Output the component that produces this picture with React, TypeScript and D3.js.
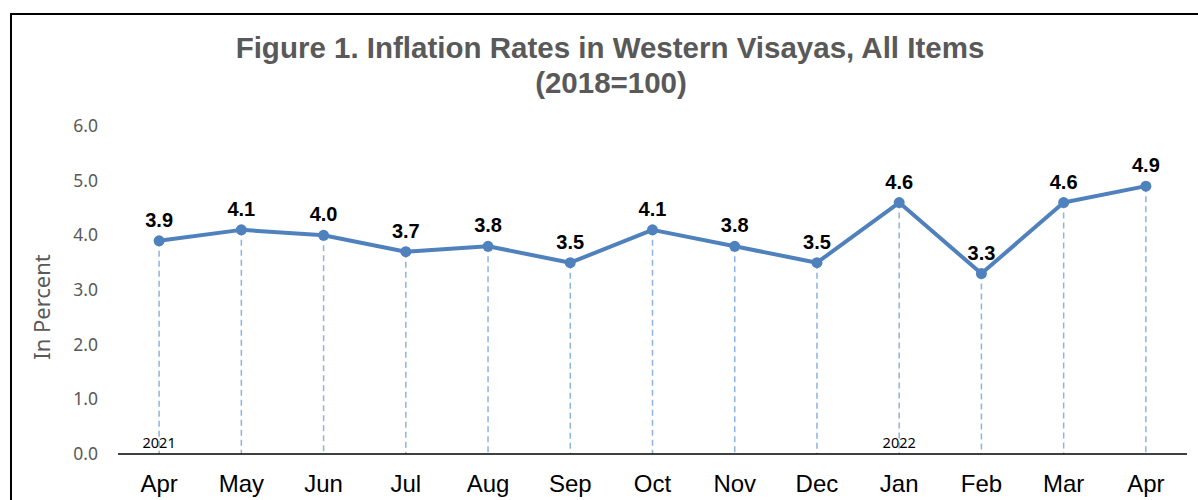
import React from "react";
import * as d3 from "d3";

const months = ["Apr", "May", "Jun", "Jul", "Aug", "Sep", "Oct", "Nov", "Dec", "Jan", "Feb", "Mar", "Apr"];
const values = [3.9, 4.1, 4.0, 3.7, 3.8, 3.5, 4.1, 3.8, 3.5, 4.6, 3.3, 4.6, 4.9];
const yearLabels = [{ index: 0, label: "2021" }, { index: 9, label: "2022" }];
const yTicks = [0, 1, 2, 3, 4, 5, 6];
const titleLines = ["Figure 1. Inflation Rates in Western Visayas, All Items", "(2018=100)"];
const yAxisTitle = "In Percent";

export default function App() {
  const W = 1198, H = 500;
  const keys = months.map((m, i) => i);
  const x = d3.scaleBand<number>().domain(keys).range([118, 1187]);
  const y = d3.scaleLinear().domain([0, 6]).range([454, 126]);
  const cx = (i: number) => (x(i) as number) + x.bandwidth() / 2;
  const line = d3.line<number>().x((d, i) => cx(i)).y((d) => y(d));
  const gray = "#595959";
  return (
    <svg width={W} height={H} style={{ position: "absolute", left: 0, top: 0, background: "#fff" }}>
      <rect x={11} y={14} width={W + 10} height={H + 10} fill="#fff" stroke="#000" strokeWidth={2} />
      <text x={610} y={58} textAnchor="middle" fontFamily="Liberation Sans, Arial" fontWeight="bold" fontSize={29.5} fill={gray}>{titleLines[0]}</text>
      <text x={611} y={93} textAnchor="middle" fontFamily="Liberation Sans, Arial" fontWeight="bold" fontSize={29.5} fill={gray}>{titleLines[1]}</text>
      {yTicks.map((t) => (
        <text key={t} x={98} y={y(t) + 6} textAnchor="end" fontFamily="Noto Sans, Open Sans" fontSize={17.5} fill={gray}>{t.toFixed(1)}</text>
      ))}
      <text transform={`translate(50,${307}) rotate(-90)`} textAnchor="middle" fontFamily="Noto Sans, Open Sans" fontSize={22} fill={gray}>{yAxisTitle}</text>
      {values.map((v, i) => (
        <line key={i} x1={cx(i)} x2={cx(i)} y1={y(v)} y2={y(0)} stroke="#8db3e2" strokeWidth={1.5} strokeDasharray="6,4" />
      ))}
      <line x1={118} x2={1187} y1={y(0)} y2={y(0)} stroke="#000" strokeWidth={1.5} />
      {yearLabels.map((yl) => (
        <text key={yl.label} x={cx(yl.index)} y={448} textAnchor="middle" fontFamily="Noto Sans, Open Sans" fontSize={14.5} fill="#000">{yl.label}</text>
      ))}
      {months.map((m, i) => (
        <text key={i} x={cx(i)} y={492} textAnchor="middle" fontFamily="Liberation Sans, Arial" fontSize={24} fill="#000">{m}</text>
      ))}
      <path d={line(values) || ""} fill="none" stroke="#4f81bd" strokeWidth={4} strokeLinejoin="round" />
      {values.map((v, i) => (
        <circle key={i} cx={cx(i)} cy={y(v)} r={5.5} fill="#4f81bd" />
      ))}
      {values.map((v, i) => (
        <text key={i} x={cx(i)} y={y(v) - 14} textAnchor="middle" fontFamily="Liberation Sans, Arial" fontWeight="bold" fontSize={20} fill="#000">{v.toFixed(1)}</text>
      ))}
    </svg>
  );
}
